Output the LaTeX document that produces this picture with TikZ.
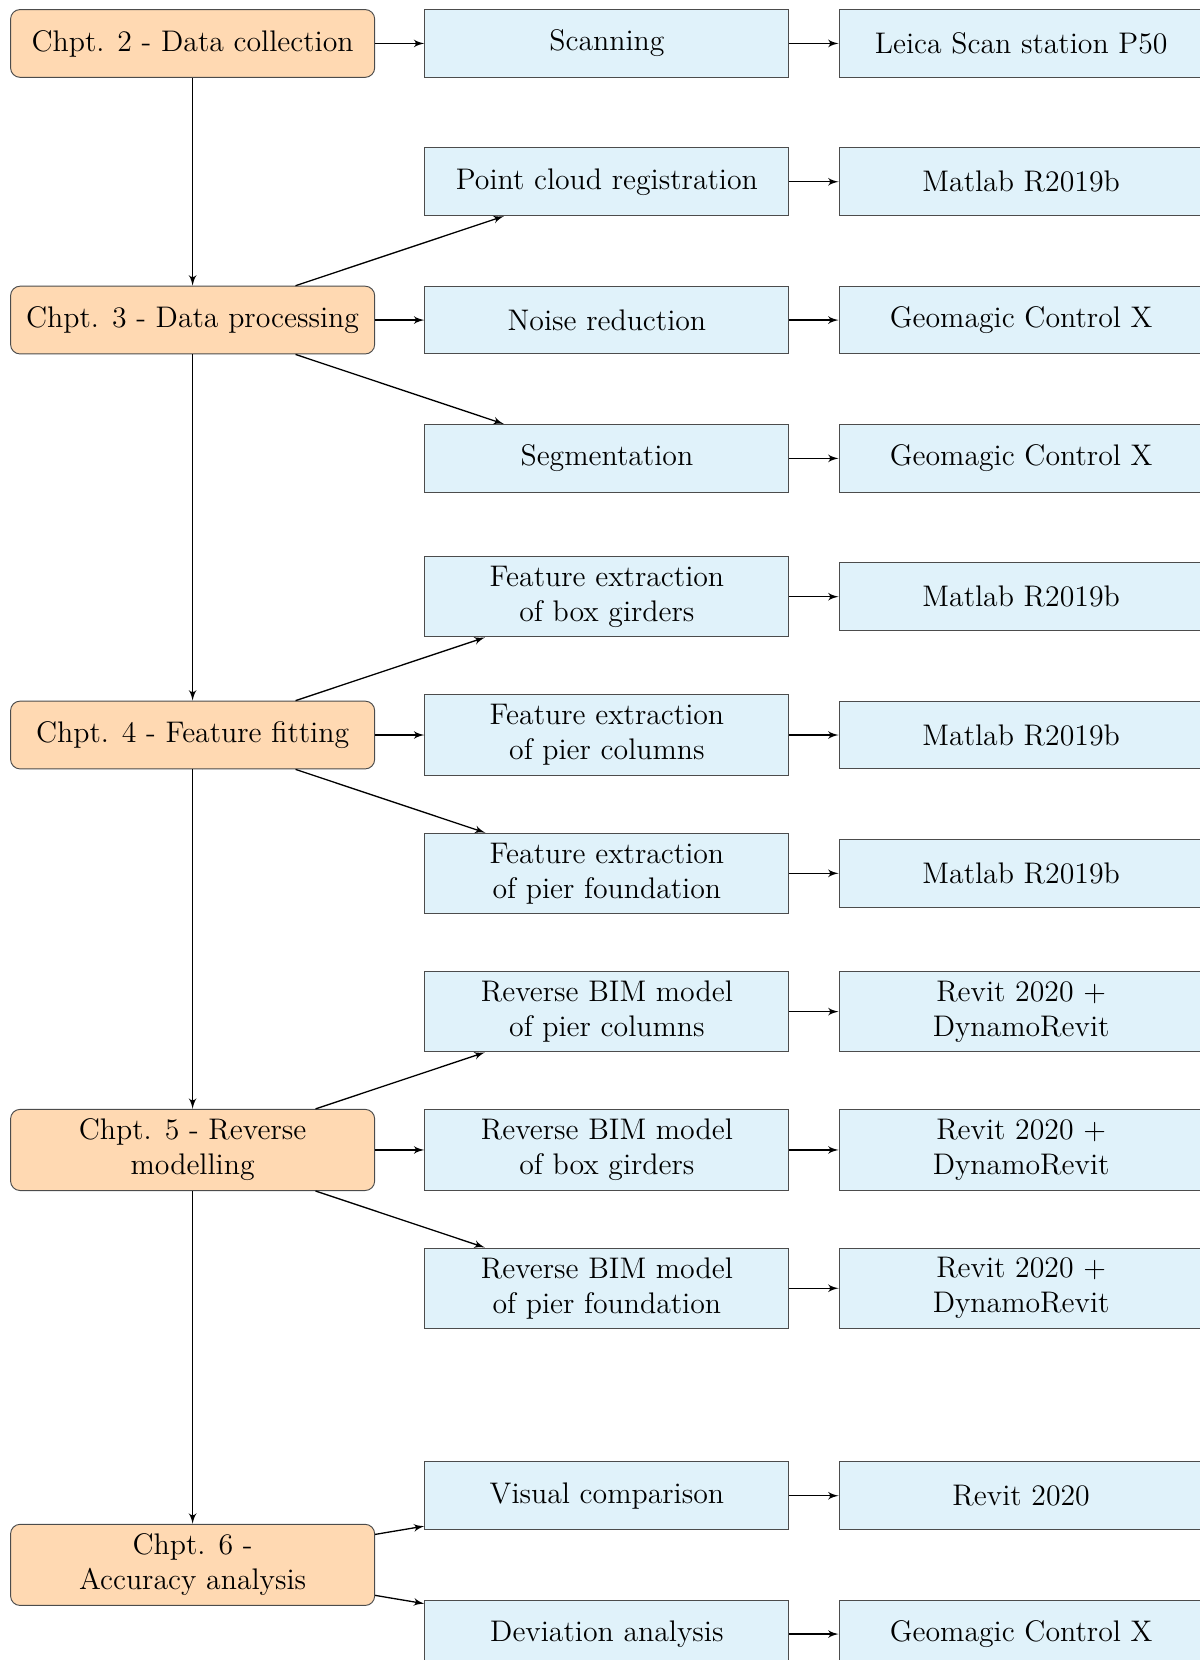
\documentclass[tikz,border=0pt,12pt]{standalone}
\usepackage{tikz}
\usetikzlibrary{arrows}
\definecolor{chapfill}{RGB}{255,217,178}
\definecolor{taskfill}{RGB}{224,242,250}
\tikzstyle{chapter} = [rectangle, draw=black!70, fill=chapfill, rounded corners,
    font=\fontsize{12.5}{14.7}\selectfont, align=center, minimum width=5.37cm, minimum height=1cm]
\tikzstyle{task} = [rectangle, draw=black!70, fill=taskfill,
    font=\fontsize{12.5}{14.7}\selectfont, align=center, minimum width=5.37cm, minimum height=1cm]
\tikzstyle{line} = [draw, line width=0.55pt, -latex']

\begin{document}
\begin{tikzpicture}[node distance=6.11cm]
    \useasboundingbox (-2.841,-23.843) rectangle (14.858,0.641);
    % Place nodes
    \node [chapter] (c2) {Chpt. 2 - Data collection};
    \node [task, right of=c2] (scan) {Scanning};
    \node [task, right of=scan] (leica) {Leica Scan station P50};
    \node [task, node distance=2.04cm, below of=scan] (reg) {Point cloud registration};
    \node [task, right of=reg] (matlaba) {Matlab R2019b};
    \node [chapter, node distance=4.08cm, below of=c2] (c3) {Chpt. 3 - Data processing};
    \node [task, right of=c3] (noise) {Noise reduction};
    \node [task, right of=noise] (geoa) {Geomagic Control X};
    \node [task, node distance=2.04cm, below of=noise] (seg) {Segmentation};
    \node [task, right of=seg] (geob) {Geomagic Control X};
    \node [chapter, node distance=6.12cm, below of=c3] (c4) {Chpt. 4 - Feature fitting};
    \node [task, right of=c4] (fcol) {Feature extraction\\of pier columns};
    \node [task, right of=fcol] (matlabc) {Matlab R2019b};
    \node [task, node distance=2.04cm, above of=fcol] (fbox) {Feature extraction\\of box girders};
    \node [task, right of=fbox] (matlabb) {Matlab R2019b};
    \node [task, node distance=2.04cm, below of=fcol] (ffound) {Feature extraction\\of pier foundation};
    \node [task, right of=ffound] (matlabd) {Matlab R2019b};
    \node [chapter, node distance=6.12cm, below of=c4] (c5) {Chpt. 5 - Reverse\\modelling};
    \node [task, right of=c5] (rbox) {Reverse BIM model\\of box girders};
    \node [task, right of=rbox] (revitb) {Revit 2020 +\\DynamoRevit};
    \node [task, node distance=2.04cm, above of=rbox] (rcol) {Reverse BIM model\\of pier columns};
    \node [task, right of=rcol] (revita) {Revit 2020 +\\DynamoRevit};
    \node [task, node distance=2.04cm, below of=rbox] (rfound) {Reverse BIM model\\of pier foundation};
    \node [task, right of=rfound] (revitc) {Revit 2020 +\\DynamoRevit};
    \node [chapter, node distance=6.12cm, below of=c5] (c6) {Chpt. 6 -\\Accuracy analysis};
    \node [task, right of=c6, yshift=1.02cm] (visual) {Visual comparison};
    \node [task, right of=visual] (revitd) {Revit 2020};
    \node [task, right of=c6, yshift=-1.02cm] (dev) {Deviation analysis};
    \node [task, right of=dev] (geoc) {Geomagic Control X};
    % Draw edges
    \path [line] (c2) -- (c3);
    \path [line] (c3) -- (c4);
    \path [line] (c4) -- (c5);
    \path [line] (c5) -- (c6);
    \path [line] (c2) -- (scan);
    \path [line] (scan) -- (leica);
    \path [line] (c3) -- (reg);
    \path [line] (reg) -- (matlaba);
    \path [line] (c3) -- (noise);
    \path [line] (noise) -- (geoa);
    \path [line] (c3) -- (seg);
    \path [line] (seg) -- (geob);
    \path [line] (c4) -- (fbox);
    \path [line] (fbox) -- (matlabb);
    \path [line] (c4) -- (fcol);
    \path [line] (fcol) -- (matlabc);
    \path [line] (c4) -- (ffound);
    \path [line] (ffound) -- (matlabd);
    \path [line] (c5) -- (rcol);
    \path [line] (rcol) -- (revita);
    \path [line] (c5) -- (rbox);
    \path [line] (rbox) -- (revitb);
    \path [line] (c5) -- (rfound);
    \path [line] (rfound) -- (revitc);
    \path [line] (c6) -- (visual);
    \path [line] (visual) -- (revitd);
    \path [line] (c6) -- (dev);
    \path [line] (dev) -- (geoc);
\end{tikzpicture}
\end{document}
